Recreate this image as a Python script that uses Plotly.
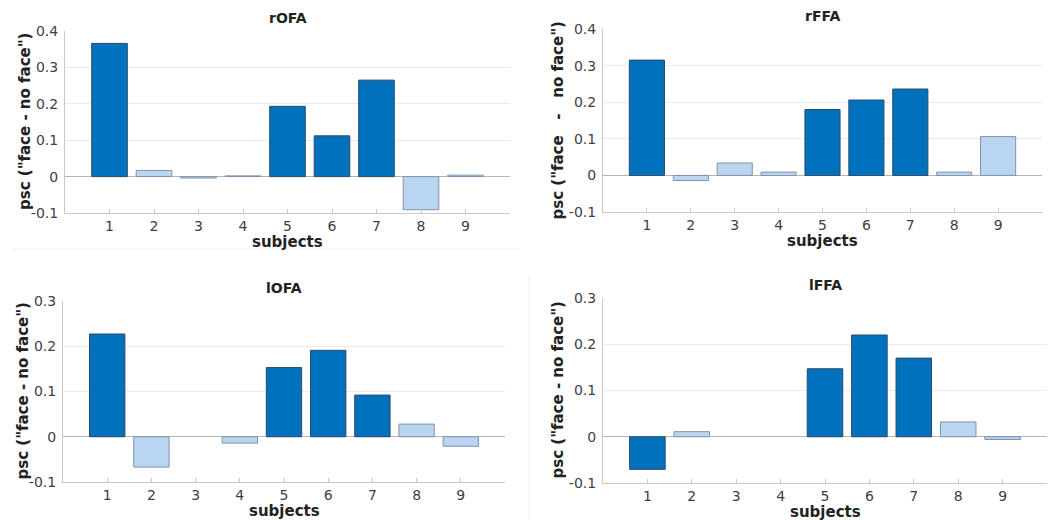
import plotly.graph_objects as go

subjects = [1, 2, 3, 4, 5, 6, 7, 8, 9]

titles = ["rOFA", "rFFA", "lOFA", "lFFA"]
rOFA = [0.366, 0.017, -0.004, 0.002, 0.193, 0.112, 0.265, -0.091, 0.004]
rFFA = [0.315, -0.014, 0.034, 0.009, 0.180, 0.206, 0.236, 0.009, 0.106]
lOFA = [0.227, -0.067, None, -0.014, 0.153, 0.191, 0.092, 0.028, -0.021]
lFFA = [-0.0705, 0.011, None, None, 0.147, 0.220, 0.170, 0.032, -0.006]
# 1 = dark (significant), 0 = light
rOFA_sig = [1, 0, 0, 0, 1, 1, 1, 0, 0]
rFFA_sig = [1, 0, 0, 0, 1, 1, 1, 0, 0]
lOFA_sig = [1, 0, 0, 0, 1, 1, 1, 0, 0]
lFFA_sig = [1, 0, 0, 0, 1, 1, 1, 0, 0]

ytick_vals_top = [-0.1, 0, 0.1, 0.2, 0.3, 0.4]
ytick_text_top = ["-0.1", "0", "0.1", "0.2", "0.3", "0.4"]
ytick_vals_bot = [-0.1, 0, 0.1, 0.2, 0.3]
ytick_text_bot = ["-0.1", "0", "0.1", "0.2", "0.3"]

ytitles = ['psc ("face - no face")',
           'psc ("face\u00a0\u00a0\u00a0-\u00a0\u00a0\u00a0no face")',
           'psc ("face - no face")',
           'psc ("face - no face")']
yranges = [[-0.1, 0.4], [-0.1, 0.4], [-0.1, 0.3], [-0.1, 0.3]]
yticks = [(ytick_vals_top, ytick_text_top), (ytick_vals_top, ytick_text_top),
          (ytick_vals_bot, ytick_text_bot), (ytick_vals_bot, ytick_text_bot)]

W, H = 1064, 520
# pixel boxes: left, right, top, bottom
boxes = [(65, 510, 31, 213), (603, 1042, 29, 212),
         (63, 505, 301, 482), (603, 1047, 298, 483)]
ytitle_x = [25, 557, 22, 557]

DARK = "#0072BD"
LIGHT = "#BAD5F2"
FONT = "DejaVu Sans"

fig = go.Figure()
annotations = []
datasets = [(rOFA, rOFA_sig), (rFFA, rFFA_sig), (lOFA, lOFA_sig), (lFFA, lFFA_sig)]

for i, ((vals, sig), (l, r, t, b)) in enumerate(zip(datasets, boxes)):
    n = i + 1
    xa = "x" if n == 1 else f"x{n}"
    ya = "y" if n == 1 else f"y{n}"
    colors = [DARK if s else LIGHT for s in sig]
    edges = ["#2a4a66" if s else "#7f93a8" for s in sig]
    fig.add_trace(go.Bar(
        x=subjects, y=vals, width=0.8,
        marker=dict(color=colors, line=dict(color=edges, width=1)),
        xaxis=xa, yaxis=ya, showlegend=False, hoverinfo="x+y"))
    xkey = "xaxis" if n == 1 else f"xaxis{n}"
    ykey = "yaxis" if n == 1 else f"yaxis{n}"
    lo, hi = yranges[i]
    tv, tt = yticks[i]
    fig.update_layout(**{
        xkey: dict(domain=[l / W, r / W], anchor=ya, range=[0, 10],
                   tickmode="array", tickvals=subjects,
                   ticktext=[str(s) for s in subjects],
                   showgrid=False, zeroline=False, automargin=False,
                   showline=True, linecolor="#c8c8c8", linewidth=1,
                   ticks="inside", ticklen=4, tickcolor="#c8c8c8",
                   tickfont=dict(family=FONT, size=14, color="#404040"),
                   fixedrange=True),
        ykey: dict(domain=[1 - b / H, 1 - t / H], anchor=xa, range=[lo, hi],
                   tickmode="array", tickvals=tv, ticktext=tt,
                   automargin=False,
                   showgrid=True, gridcolor="#ebebeb", gridwidth=1,
                   zeroline=True, zerolinecolor="#b4b4b4", zerolinewidth=1,
                   showline=True, linecolor="#c8c8c8", linewidth=1,
                   ticks="", ticklabelstandoff=3,
                   tickfont=dict(family=FONT, size=14, color="#404040"),
                   fixedrange=True),
    })
    cx = (l + r) / 2
    annotations.append(dict(text=f"<b>{titles[i]}</b>", x=cx / W, y=1 - (t - 13) / H,
                            xref="paper", yref="paper", showarrow=False,
                            xanchor="center", yanchor="middle",
                            font=dict(family=FONT, size=14, color="#222222")))
    annotations.append(dict(text="<b>subjects</b>", x=cx / W, y=1 - (b + 29) / H,
                            xref="paper", yref="paper", showarrow=False,
                            xanchor="center", yanchor="middle",
                            font=dict(family=FONT, size=15, color="#222222")))
    annotations.append(dict(text=f"<b>{ytitles[i]}</b>", x=ytitle_x[i] / W,
                            y=1 - ((t + b) / 2) / H,
                            xref="paper", yref="paper", showarrow=False,
                            textangle=-90, xanchor="center", yanchor="middle",
                            font=dict(family=FONT, size=15, color="#222222")))

shapes = [
    dict(type="line", xref="paper", yref="paper", x0=529 / W, x1=529 / W,
         y0=0, y1=1 - 276 / H, line=dict(color="#eeeeee", width=1)),
    dict(type="line", xref="paper", yref="paper", x0=12 / W, x1=520 / W,
         y0=1 - 249 / H, y1=1 - 249 / H, line=dict(color="#f0f0f0", width=1)),
]

fig.update_layout(width=W, height=H, margin=dict(l=0, r=0, t=0, b=0),
                  paper_bgcolor="white", plot_bgcolor="white",
                  annotations=annotations, shapes=shapes, bargap=0.2,
                  font=dict(family=FONT))

fig.write_html("out.html", config={"displayModeBar": False},
               post_script="document.body.style.margin='0';document.body.style.overflow='hidden';")
